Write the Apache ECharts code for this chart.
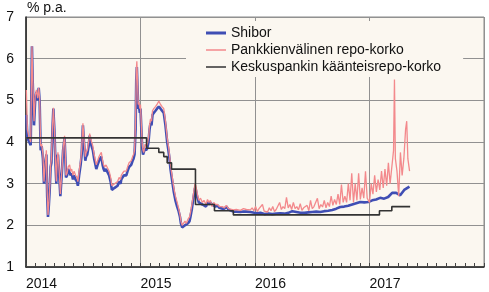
<!DOCTYPE html>
<html><head><meta charset="utf-8">
<script src="https://cdn.jsdelivr.net/npm/echarts@6/dist/echarts.min.js"></script>
<style>html,body{margin:0;padding:0;background:#fff}#c{width:489px;height:292px}</style>
</head><body><div id="c"></div>
<script>
// x values are decimal years
const seriesNames = ['Shibor', 'Pankkienvälinen repo-korko', 'Keskuspankin käänteisrepo-korko'];
const yearTicks = [2014, 2015, 2016, 2017, 2018];
const yTicks = [1, 2, 3, 4, 5, 6, 7];

const shibor = [
[2014.003,4.65],[2014.012,4.1],[2014.028,4.0],[2014.041,3.92],[2014.052,6.3],[2014.058,5.5],[2014.070,4.4],[2014.080,5.0],[2014.091,5.2],[2014.102,5.0],[2014.111,5.3],[2014.119,5.0],[2014.128,3.8],[2014.137,3.9],[2014.148,3.6],[2014.157,3.0],[2014.167,3.4],[2014.178,3.7],[2014.185,2.7],[2014.192,2.2],[2014.200,2.5],[2014.207,2.85],[2014.215,3.4],[2014.222,3.5],[2014.231,4.3],[2014.239,4.8],[2014.244,4.5],[2014.250,4.15],[2014.257,3.5],[2014.265,3.0],[2014.272,3.5],[2014.279,3.7],[2014.290,3.2],[2014.300,2.7],[2014.307,3.0],[2014.314,3.3],[2014.324,3.8],[2014.337,4.1],[2014.344,3.6],[2014.349,3.15],[2014.359,3.2],[2014.368,3.35],[2014.381,3.35],[2014.390,3.2],[2014.399,3.25],[2014.410,3.1],[2014.420,3.2],[2014.433,3.1],[2014.445,3.05],[2014.453,2.95],[2014.464,3.2],[2014.477,3.45],[2014.486,3.7],[2014.497,4.4],[2014.506,4.0],[2014.518,3.55],[2014.525,3.65],[2014.535,3.7],[2014.547,3.9],[2014.556,4.15],[2014.564,4.0],[2014.573,3.9],[2014.584,3.8],[2014.595,3.6],[2014.603,3.5],[2014.614,3.35],[2014.625,3.45],[2014.638,3.55],[2014.647,3.6],[2014.658,3.65],[2014.669,3.45],[2014.678,3.35],[2014.686,3.3],[2014.699,3.35],[2014.715,3.35],[2014.726,3.2],[2014.739,3.05],[2014.750,2.85],[2014.760,2.85],[2014.774,2.9],[2014.788,2.88],[2014.800,2.95],[2014.813,3.05],[2014.826,3.0],[2014.832,3.1],[2014.843,3.15],[2014.856,3.2],[2014.876,3.2],[2014.887,3.3],[2014.900,3.4],[2014.919,3.45],[2014.931,3.55],[2014.939,3.6],[2014.948,3.7],[2014.957,4.3],[2014.963,5.5],[2014.968,5.8],[2014.974,5.3],[2014.980,4.8],[2014.987,4.85],[2014.994,4.7],[2015.000,4.8],[2015.009,4.2],[2015.015,3.85],[2015.022,3.7],[2015.029,3.7],[2015.040,3.85],[2015.048,3.8],[2015.059,3.85],[2015.070,4.0],[2015.079,4.3],[2015.087,4.45],[2015.096,4.4],[2015.105,4.65],[2015.116,4.7],[2015.131,4.75],[2015.144,4.8],[2015.160,4.85],[2015.175,4.8],[2015.188,4.75],[2015.203,4.7],[2015.218,4.4],[2015.233,4.0],[2015.244,3.8],[2015.253,3.6],[2015.262,3.35],[2015.275,3.1],[2015.291,2.8],[2015.305,2.6],[2015.320,2.45],[2015.332,2.35],[2015.345,2.2],[2015.353,2.05],[2015.364,1.95],[2015.375,1.95],[2015.388,2.0],[2015.401,2.0],[2015.415,2.05],[2015.428,2.1],[2015.436,2.2],[2015.449,2.4],[2015.465,2.7],[2015.476,2.9],[2015.484,2.85],[2015.493,2.7],[2015.509,2.55],[2015.524,2.55],[2015.541,2.5],[2015.554,2.5],[2015.572,2.45],[2015.585,2.55],[2015.598,2.5],[2015.611,2.55],[2015.624,2.5],[2015.640,2.5],[2015.654,2.45],[2015.672,2.48],[2015.689,2.42],[2015.702,2.4],[2015.715,2.4],[2015.733,2.4],[2015.750,2.45],[2015.768,2.38],[2015.785,2.35],[2015.811,2.33],[2015.837,2.33],[2015.872,2.32],[2015.899,2.33],[2015.925,2.33],
[2015.960,2.32],[2015.994,2.3],[2016.021,2.29],[2016.047,2.3],[2016.082,2.27],[2016.117,2.28],[2016.151,2.27],[2016.186,2.28],[2016.221,2.29],[2016.256,2.28],[2016.291,2.3],[2016.326,2.34],[2016.361,2.32],[2016.396,2.3],[2016.431,2.3],[2016.465,2.31],[2016.500,2.32],[2016.535,2.33],[2016.570,2.32],[2016.605,2.34],[2016.640,2.35],[2016.675,2.37],[2016.710,2.4],[2016.744,2.44],[2016.779,2.45],[2016.814,2.47],[2016.849,2.5],[2016.884,2.53],[2016.919,2.56],[2016.954,2.55],[2016.989,2.56],[2017.024,2.6],[2017.058,2.62],[2017.093,2.66],[2017.128,2.64],[2017.163,2.68],[2017.198,2.78],[2017.233,2.78],[2017.268,2.72],[2017.303,2.85],[2017.320,2.88],[2017.349,2.93]
];

const repo = [
[2014.003,5.25],[2014.012,4.3],[2014.028,4.1],[2014.041,4.0],[2014.052,6.3],[2014.058,5.6],[2014.070,4.5],[2014.080,5.1],[2014.091,5.25],[2014.102,5.05],[2014.111,5.3],[2014.119,5.05],[2014.128,3.9],[2014.137,3.95],[2014.148,3.7],[2014.157,3.05],[2014.167,3.45],[2014.178,3.8],[2014.185,2.8],[2014.192,2.25],[2014.200,2.55],[2014.207,2.9],[2014.215,3.45],[2014.222,3.6],[2014.231,4.35],[2014.239,4.82],[2014.244,4.55],[2014.250,4.2],[2014.257,3.55],[2014.265,3.05],[2014.272,3.55],[2014.279,3.75],[2014.290,3.3],[2014.300,2.75],[2014.307,3.05],[2014.314,3.35],[2014.324,3.85],[2014.337,4.15],[2014.344,3.7],[2014.349,3.2],[2014.359,3.25],[2014.368,3.4],[2014.381,3.45],[2014.390,3.3],[2014.399,3.35],[2014.410,3.2],[2014.420,3.3],[2014.433,3.2],[2014.445,3.15],[2014.453,3.05],[2014.464,3.3],[2014.477,3.55],[2014.486,3.8],[2014.497,4.45],[2014.506,4.1],[2014.518,3.65],[2014.525,3.75],[2014.535,3.8],[2014.547,4.0],[2014.556,4.2],[2014.564,4.1],[2014.573,4.0],[2014.584,3.9],[2014.595,3.7],[2014.603,3.6],[2014.614,3.45],[2014.625,3.55],[2014.638,3.65],[2014.647,3.7],[2014.658,3.75],[2014.669,3.55],[2014.678,3.45],[2014.686,3.4],[2014.699,3.45],[2014.715,3.45],[2014.726,3.3],[2014.739,3.15],[2014.750,2.95],[2014.760,2.95],[2014.774,3.0],[2014.788,2.98],[2014.800,3.05],[2014.813,3.15],[2014.826,3.1],[2014.832,3.2],[2014.843,3.25],[2014.856,3.3],[2014.876,3.3],[2014.887,3.4],[2014.900,3.5],[2014.919,3.55],[2014.931,3.65],[2014.939,3.7],[2014.948,3.8],[2014.957,4.5],[2014.963,5.7],[2014.968,5.94],[2014.974,5.5],[2014.980,4.9],[2014.987,4.95],[2014.994,4.8],[2015.000,4.9],[2015.009,4.3],[2015.015,3.95],[2015.022,3.8],[2015.029,3.75],[2015.040,3.95],[2015.048,3.9],[2015.059,3.95],[2015.070,4.1],[2015.079,4.4],[2015.087,4.55],[2015.096,4.5],[2015.105,4.75],[2015.116,4.8],[2015.131,4.85],[2015.144,4.9],[2015.160,4.98],[2015.175,4.9],[2015.188,4.85],[2015.203,4.8],[2015.218,4.5],[2015.233,4.1],[2015.244,3.9],[2015.253,3.7],[2015.262,3.45],[2015.275,3.2],[2015.291,2.9],[2015.305,2.7],[2015.320,2.55],[2015.332,2.42],[2015.345,2.25],[2015.353,2.1],[2015.364,2.0],[2015.375,2.0],[2015.388,2.1],[2015.401,2.05],[2015.415,2.15],[2015.428,2.2],[2015.436,2.3],[2015.449,2.5],[2015.465,2.8],[2015.476,3.0],[2015.484,2.95],[2015.493,2.8],[2015.509,2.6],[2015.524,2.65],[2015.541,2.55],[2015.554,2.6],[2015.572,2.5],[2015.585,2.62],[2015.598,2.55],[2015.611,2.6],[2015.624,2.45],[2015.640,2.55],[2015.654,2.5],[2015.672,2.5],[2015.689,2.45],[2015.702,2.42],[2015.715,2.45],[2015.733,2.42],[2015.750,2.48],[2015.768,2.4],[2015.785,2.4],[2015.811,2.37],[2015.837,2.38],[2015.872,2.36],[2015.899,2.4],[2015.925,2.38],
[2015.960,2.37],[2015.975,2.42],[2015.990,2.35],[2016.005,2.45],[2016.020,2.33],[2016.035,2.40],[2016.050,2.36],[2016.065,2.5],[2016.080,2.34],[2016.095,2.38],[2016.110,2.32],[2016.125,2.42],[2016.140,2.35],[2016.155,2.45],[2016.170,2.33],[2016.185,2.38],[2016.200,2.36],[2016.215,2.55],[2016.230,2.38],[2016.245,2.45],[2016.260,2.40],[2016.275,2.67],[2016.290,2.42],[2016.305,2.5],[2016.320,2.38],[2016.335,2.55],[2016.350,2.40],[2016.365,2.45],[2016.380,2.37],[2016.395,2.52],[2016.410,2.36],[2016.425,2.42],[2016.440,2.38],[2016.455,2.48],[2016.470,2.35],[2016.485,2.6],[2016.500,2.40],[2016.515,2.45],[2016.530,2.42],[2016.545,2.65],[2016.560,2.40],[2016.575,2.5],[2016.590,2.44],[2016.605,2.6],[2016.620,2.42],[2016.635,2.55],[2016.650,2.45],[2016.665,2.7],[2016.680,2.48],[2016.695,2.62],[2016.710,2.5],[2016.725,2.75],[2016.740,2.5],[2016.755,2.98],[2016.770,2.55],[2016.785,2.7],[2016.800,2.55],[2016.815,3.0],[2016.830,2.6],[2016.845,3.25],[2016.860,2.55],[2016.875,3.0],[2016.890,2.6],[2016.905,3.25],[2016.920,2.62],[2016.935,2.9],[2016.950,2.65],[2016.965,3.3],[2016.980,2.65],
[2017.000,2.55],[2017.015,3.0],[2017.030,2.75],[2017.045,3.2],[2017.060,2.8],[2017.075,3.1],[2017.090,2.85],[2017.105,3.3],[2017.120,2.9],[2017.135,3.35],[2017.150,2.95],[2017.165,3.5],[2017.180,3.0],[2017.195,3.4],[2017.210,3.8],[2017.218,5.5],[2017.226,3.6],[2017.240,3.3],[2017.255,2.7],[2017.270,3.75],[2017.285,3.2],[2017.300,3.6],[2017.315,4.3],[2017.325,4.5],[2017.335,3.6],[2017.350,3.3]
];

// central bank reverse repo rate: value effective from the given date
const centralBank = [
[2014.003,4.1],[2015.053,3.85],[2015.160,3.75],[2015.203,3.65],[2015.233,3.5],[2015.271,3.35],[2015.480,2.5],[2015.646,2.35],[2015.811,2.25],[2017.087,2.35],[2017.195,2.45],[2017.355,2.45]
];

const FONT = '"Liberation Sans", Arial, sans-serif';
// legend line icons (invisible corner points keep the 20x14 box)
const lineIcon = t => 'path://M0,0L0.01,0L0,0.01ZM20,14L19.99,14L20,13.99ZM0,' + (7 - t / 2) + 'H20V' + (7 + t / 2) + 'H0Z';
const colors = ['#3f4eb4', '#f3898c', '#333333'];
const GRID_COLOR = '#919191';
const chart = echarts.init(document.getElementById('c'), null, {renderer: 'canvas'});
chart.setOption({
  animation: false,
  backgroundColor: '#ffffff',
  textStyle: {fontFamily: FONT},
  title: {
    text: '% p.a.', left: 27, top: 1, padding: 0,
    textStyle: {fontSize: 14, fontWeight: 'normal', color: '#111', fontFamily: FONT}
  },
  legend: {
    orient: 'vertical', left: 186, top: 21,
    padding: [5, 22, 3, 20],
    backgroundColor: '#fbf7f0',
    itemWidth: 20, itemHeight: 14, itemGap: 3,
    data: [
      {name: seriesNames[0], icon: lineIcon(3), itemStyle: {color: colors[0]}},
      {name: seriesNames[1], icon: lineIcon(1.5), itemStyle: {color: colors[1]}},
      {name: seriesNames[2], icon: lineIcon(1.6), itemStyle: {color: colors[2]}}
    ],
    textStyle: {fontSize: 14, color: '#111', fontFamily: FONT}
  },
  grid: {
    left: 26, right: 5, top: 17, bottom: 25,
    show: true, backgroundColor: '#fbf7f0', borderColor: '#8a8a8a', borderWidth: 1
  },
  xAxis: {
    type: 'value', min: yearTicks[0], max: yearTicks[yearTicks.length - 1], interval: 1,
    axisLine: {show: true, onZero: false, lineStyle: {color: '#222', width: 1.5}},
    axisTick: {show: true, inside: true, length: 4, lineStyle: {color: '#444'}},
    minorTick: {show: true, splitNumber: 12, length: 4, lineStyle: {color: '#444'}},
    splitLine: {show: true, lineStyle: {color: GRID_COLOR, width: 1}},
    axisLabel: {
      fontSize: 14, color: '#111', margin: 10, align: 'left', showMaxLabel: false,
      formatter: v => String(Math.round(v))
    }
  },
  yAxis: {
    type: 'value', min: yTicks[0], max: yTicks[yTicks.length - 1], interval: 1,
    axisLine: {show: true, lineStyle: {color: '#222', width: 1.5}},
    axisTick: {show: false},
    splitLine: {show: true, lineStyle: {color: GRID_COLOR, width: 1}},
    axisLabel: {fontSize: 14, color: '#111', margin: 12}
  },
  series: [
    {name: seriesNames[0], type: 'line', data: shibor, symbol: 'none', z: 2,
     lineStyle: {color: colors[0], width: 2.6}, itemStyle: {color: colors[0]}},
    {name: seriesNames[1], type: 'line', data: repo, symbol: 'none', z: 3,
     lineStyle: {color: colors[1], width: 1.3}, itemStyle: {color: colors[1]}},
    {name: seriesNames[2], type: 'line', data: centralBank, symbol: 'none', step: 'end', z: 4,
     lineStyle: {color: colors[2], width: 1.6}, itemStyle: {color: colors[2]}}
  ]
});
</script>
</body></html>
